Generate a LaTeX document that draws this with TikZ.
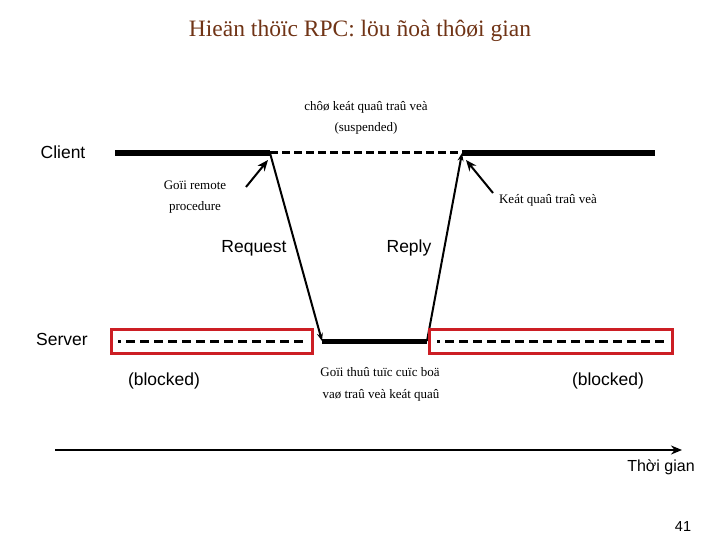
\documentclass[tikz,border=0pt]{standalone}
\usepackage{fontspec}
\setmainfont{Liberation Serif}
\newfontfamily\arialf{Liberation Sans}
\usetikzlibrary{arrows.meta}
\definecolor{titlebrown}{RGB}{112,52,22}
\definecolor{boxred}{RGB}{204,30,36}
\tikzset{
  lbl/.style={font=\arialf\fontsize{17.5}{20}\selectfont, inner sep=0pt},
  small/.style={font=\fontsize{13}{15}\selectfont, inner sep=0pt},
  thickline/.style={line width=6pt},
  dashline/.style={line width=3pt, dash pattern=on 8pt off 4pt},
  thindash/.style={line width=3pt, dash pattern=on 9pt off 5pt, dash phase=6pt},
  arr/.style={line width=2pt, -{Stealth[length=11pt,width=9pt]}},
  msg/.style={line width=2pt, -{Stealth[length=8pt,width=6pt]}},
  redbox/.style={draw=boxred, line width=2.6pt},
}
\begin{document}
\begin{tikzpicture}[x=1pt,y=-1pt]
\useasboundingbox (0,0) rectangle (720,540);
\node[font=\fontsize{23.5}{27}\selectfont, text=titlebrown, inner sep=0pt] (title) at (360,31) {Hieän thöïc RPC: löu ñoà thôøi gian};
\node[small] (wait1) at (366,107) {chôø keát quaû traû veà};
\node[small] (wait2) at (366,128) {(suspended)};
\node[lbl] (client) at (63,152) {Client};
\coordinate (c0) at (115,153);
\coordinate (c1) at (270,153);
\coordinate (c2) at (462,153);
\coordinate (c3) at (655,153);
\draw[thickline] (c0) -- (c1);
\draw[dashline] (c1) -- (c2);
\draw[thickline] (c2) -- (c3);
\node[lbl] (server) at (62,339) {Server};
\coordinate (s1) at (322,341);
\coordinate (s2) at (427,341);
\draw[line width=5pt] (s1) -- (s2);
\draw[msg] (c1) -- (s1);
\draw[msg] (s2) -- (c2);
\node[redbox, minimum width=201pt, minimum height=24pt, inner sep=0pt] (box1) at (212,341.5) {};
\node[redbox, minimum width=243pt, minimum height=24pt, inner sep=0pt] (box2) at (551,341.5) {};
\draw[thindash] (118,341) -- (306,341);
\draw[thindash] (437,341) -- (666,341);
\node[small] (call1) at (195,185) {Goïi remote};
\node[small] (call2) at (195,207) {procedure};
\coordinate (ca) at (246,187);
\draw[arr] (ca) -- (268,160);
\node[small] (res) at (548,200) {Keát quaû traû veà};
\coordinate (ra) at (493,193);
\draw[arr] (ra) -- (466,160);
\node[lbl] (req) at (254,248) {Request};
\node[lbl] (rep) at (409,248) {Reply};
\node[lbl] (bl1) at (164,381) {(blocked)};
\node[lbl] (bl2) at (608,381) {(blocked)};
\node[small] (loc1) at (380,372) {Goïi thuû tuïc cuïc boä};
\node[small] (loc2) at (381,395) {vaø traû veà keát quaû};
\coordinate (t0) at (55,450);
\coordinate (t1) at (682,450);
\draw[line width=2pt, -{Stealth[length=11pt,width=9pt]}] (t0) -- (t1);
\node[font=\arialf\fontsize{16}{18}\selectfont, inner sep=0pt] (time) at (661,467) {Thời gian};
\node[font=\arialf\fontsize{14.5}{16}\selectfont, inner sep=0pt] (page) at (683,527) {41};
\end{tikzpicture}
\end{document}
